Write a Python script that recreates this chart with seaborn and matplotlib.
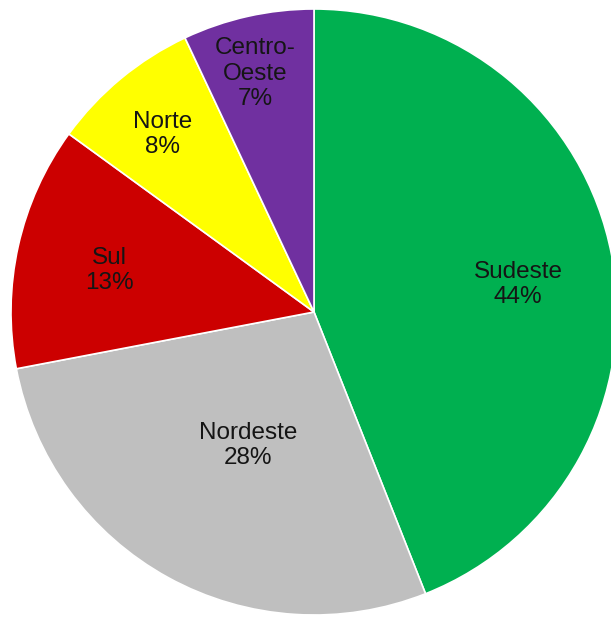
import numpy as np
import matplotlib
matplotlib.use("Agg")
import matplotlib.pyplot as plt
import seaborn as sns

regions = ["Sudeste", "Nordeste", "Sul", "Norte", "Centro-\nOeste"]
shares = [44, 28, 13, 8, 7]
colors = ["#00B050", "#BFBFBF", "#CC0000", "#FFFF00", "#7030A0"]
# label placement: (radius fraction, angle in degrees)
label_pos = [(0.68, 7.6), (0.49, -116.2), (0.69, 168.5), (0.77, 130.5), (0.81, 103.9)]

sns.set_theme(style="white")
plt.rcParams["font.family"] = ["Liberation Sans", "DejaVu Sans"]

fig = plt.figure(figsize=(6.11, 6.20), dpi=100)
ax = fig.add_axes([0, 0, 1, 1])
wedges, _ = ax.pie(shares, colors=sns.color_palette(colors), startangle=90,
                   counterclock=False, radius=1.0,
                   wedgeprops=dict(edgecolor="white", linewidth=1.2))

for name, val, (d, ang) in zip(regions, shares, label_pos):
    a = np.deg2rad(ang)
    ax.text(d * np.cos(a), d * np.sin(a), f"{name}\n{val}%",
            ha="center", va="center", fontsize=17.5, color="#151515",
            linespacing=1.2)

R = 303.0
ax.set_aspect("auto")
ax.set_xlim(-314 / R, (611 - 314) / R)
ax.set_ylim(-(620 - 312) / R, 312 / R)
ax.axis("off")
fig.savefig("out.png", dpi=100)
